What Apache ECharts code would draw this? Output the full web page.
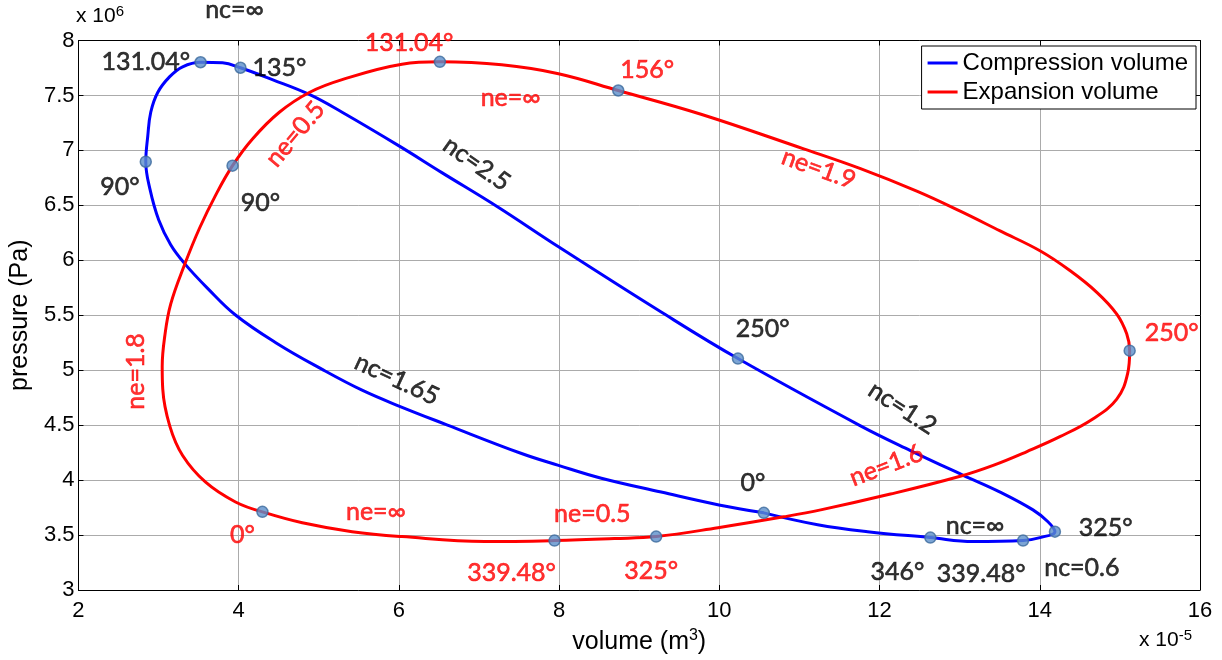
<!DOCTYPE html>
<html>
<head>
<meta charset="utf-8">
<script src="https://cdn.jsdelivr.net/npm/echarts@6/dist/echarts.min.js"></script>
<style>
  html, body { margin: 0; padding: 0; background: #fff; }
  #chart { width: 1222px; height: 660px; }
</style>
</head>
<body>
<div id="chart"></div>
<script>
// Volume in units of 1e-5 m^3, pressure in units of 1e6 Pa.
const volumeTicks = [2, 4, 6, 8, 10, 12, 14, 16];
const pressureTicks = [3, 3.5, 4, 4.5, 5, 5.5, 6, 6.5, 7, 7.5, 8];

// Compression space p-V loop, starting at crank angle 0°
const compressionCurve = [
  [10.555, 3.702], [9.995, 3.774], [9.274, 3.891], [8.527, 4.017], [7.992, 4.134],
  [7.531, 4.242], [6.598, 4.503], [6.001, 4.674], [5.540, 4.818], [5.043, 5.007],
  [4.483, 5.241], [3.960, 5.502], [3.612, 5.745], [3.325, 5.970], [3.151, 6.141],
  [3.002, 6.366], [2.890, 6.654], [2.840, 6.897], [2.865, 7.131], [2.902, 7.347],
  [2.989, 7.527], [3.139, 7.671], [3.300, 7.761], [3.524, 7.802], [3.798, 7.797],
  [4.022, 7.752], [4.420, 7.644], [4.881, 7.509], [5.291, 7.347], [6.001, 7.041],
  [6.536, 6.798], [7.220, 6.492], [7.992, 6.123], [9.274, 5.529], [10.232, 5.106],
  [11.762, 4.494], [12.385, 4.269], [13.044, 4.044], [13.505, 3.891], [13.915, 3.729],
  [14.102, 3.621], [14.189, 3.531], [14.002, 3.477], [13.791, 3.450], [13.169, 3.441],
  [12.634, 3.477], [11.850, 3.531], [11.227, 3.594], [10.555, 3.702]
];

// Expansion space p-V loop, starting at crank angle 0°
const expansionCurve = [
  [4.296, 3.711], [3.960, 3.801], [3.587, 3.981], [3.300, 4.224], [3.139, 4.494],
  [3.052, 4.827], [3.045, 5.034], [3.076, 5.304], [3.151, 5.601], [3.325, 5.961],
  [3.512, 6.294], [3.711, 6.591], [3.923, 6.861], [4.172, 7.104], [4.507, 7.347],
  [4.881, 7.527], [5.291, 7.644], [6.038, 7.784], [6.511, 7.806], [7.283, 7.779],
  [7.992, 7.698], [8.738, 7.545], [9.771, 7.329], [11.053, 7.014], [11.762, 6.834],
  [12.472, 6.627], [13.007, 6.447], [13.505, 6.267], [14.002, 6.087], [14.376, 5.907],
  [14.712, 5.709], [14.961, 5.511], [15.085, 5.331], [15.122, 5.178], [15.097, 4.971],
  [14.961, 4.737], [14.662, 4.557], [14.251, 4.395], [13.840, 4.260], [13.418, 4.134],
  [13.007, 4.035], [12.136, 3.873], [11.265, 3.729], [10.804, 3.666], [9.983, 3.567],
  [9.211, 3.486], [8.689, 3.468], [7.942, 3.450], [7.071, 3.441], [6.038, 3.486],
  [5.416, 3.531], [4.794, 3.612], [4.296, 3.711]
];

// Crank-angle points marked on each loop
const compressionMarks = [
  [10.555, 3.702], [2.840, 6.897], [3.524, 7.802], [4.022, 7.752],
  [10.232, 5.106], [14.189, 3.531], [13.791, 3.450], [12.634, 3.477]
];
const expansionMarks = [
  [4.296, 3.711], [3.923, 6.861], [6.511, 7.806], [8.738, 7.545],
  [15.122, 5.178], [9.211, 3.486], [7.942, 3.450]
];

// Annotations: [volume, pressure, text, rotation in degrees]
const compressionNotes = [
  [3.948, 8.275, 'nc=∞', 0],
  [2.840, 7.806, '131.04°', 0],
  [4.508, 7.752, '135°', 0],
  [2.518, 6.672, '90°', 0],
  [4.271, 6.519, '90°', 0],
  [6.971, 6.879, 'nc=2.5', -35],
  [10.542, 5.376, '250°', 0],
  [5.975, 4.917, 'nc=1.65', -25],
  [12.285, 4.655, 'nc=1.2', -33],
  [10.418, 3.972, '0°', 0],
  [13.193, 3.586, 'nc=∞', 0],
  [14.824, 3.568, '325°', 0],
  [14.525, 3.199, 'nc=0.6', 0],
  [12.224, 3.162, '346°', 0],
  [13.269, 3.144, '339.48°', 0]
];
const expansionNotes = [
  [6.126, 7.978, '131.04°', 0],
  [9.099, 7.735, '156°', 0],
  [7.395, 7.473, 'ne=∞', 0],
  [4.706, 7.149, 'ne=0.5', 50],
  [11.240, 6.834, 'ne=1.9', -20],
  [15.645, 5.340, '250°', 0],
  [2.716, 4.989, 'ne=1.8', 90],
  [12.086, 4.134, 'ne=1.6', 21],
  [5.714, 3.711, 'ne=∞', 0],
  [8.414, 3.693, 'ne=0.5', 0],
  [4.046, 3.500, '0°', 0],
  [7.406, 3.153, '339.48°', 0],
  [9.149, 3.171, '325°', 0]
];

const axisFont = 'Liberation Sans, Arial, sans-serif';
const noteFont = 'Lato, Calibri, sans-serif';

function noteSeries(notes, color) {
  return {
    type: 'scatter',
    symbolSize: 0,
    silent: true,
    clip: false,
    z: 5,
    itemStyle: { color: 'rgba(0,0,0,0)' },
    data: notes.map(n => ({
      value: [n[0], n[1]],
      name: n[2],
      label: { rotate: n[3] }
    })),
    label: {
      show: true,
      position: 'inside',
      formatter: p => p.name,
      color: color,
      textBorderColor: color,
      textBorderWidth: 0.6,
      fontFamily: noteFont,
      fontSize: 25,
      align: 'center',
      verticalAlign: 'middle'
    }
  };
}

function markSeries(points) {
  return {
    type: 'scatter',
    symbol: 'circle',
    symbolSize: 11,
    silent: true,
    z: 4,
    itemStyle: { color: '#5b8fcb', borderColor: '#3c6a9c', borderWidth: 1.5 },
    data: points
  };
}

function loopSeries(name, points, color) {
  return {
    name: name,
    type: 'line',
    data: points,
    showSymbol: false,
    smooth: 0.4,
    lineStyle: { color: color, width: 3 },
    itemStyle: { color: color },
    z: 3
  };
}

const chart = echarts.init(document.getElementById('chart'), null, { renderer: 'canvas' });

const boxAxis = {
  axisLine: { show: true, lineStyle: { color: '#000', width: 1 } },
  axisTick: { show: true, inside: true, length: 5, lineStyle: { color: '#000' } },
  axisLabel: { show: false },
  splitLine: { show: false }
};

chart.setOption({
  animation: false,
  backgroundColor: '#fff',
  grid: { left: 75.5, right: 22, top: 40.5, bottom: 64, containLabel: false },
  legend: {
    data: [
      { name: 'Compression volume', icon: 'rect' },
      { name: 'Expansion volume', icon: 'rect' }
    ],
    orient: 'vertical',
    right: 26,
    top: 46,
    itemWidth: 30,
    itemHeight: 3,
    itemGap: 3,
    padding: [4, 8, 4, 6],
    borderColor: '#000',
    borderWidth: 1,
    backgroundColor: '#fff',
    selectedMode: false,
    textStyle: { fontFamily: axisFont, fontSize: 24, color: '#000', lineHeight: 26 }
  },
  xAxis: [
    {
      type: 'value',
      min: volumeTicks[0],
      max: volumeTicks[volumeTicks.length - 1],
      interval: volumeTicks[1] - volumeTicks[0],
      name: 'volume (m{sup|3})',
      nameLocation: 'middle',
      nameGap: 38,
      nameTextStyle: {
        fontFamily: axisFont, fontSize: 25, color: '#000',
        rich: { sup: { fontFamily: axisFont, fontSize: 16, color: '#000', padding: [0, 0, 13, 0] } }
      },
      axisLine: { show: true, onZero: false, lineStyle: { color: '#000', width: 1 } },
      axisTick: { show: true, inside: true, length: 5, lineStyle: { color: '#000' } },
      axisLabel: { fontFamily: axisFont, fontSize: 22, color: '#000', margin: 10 },
      splitLine: { show: true, lineStyle: { color: '#ababab', width: 1 } }
    },
    Object.assign({
      type: 'value', position: 'top',
      min: volumeTicks[0], max: volumeTicks[volumeTicks.length - 1],
      interval: volumeTicks[1] - volumeTicks[0]
    }, boxAxis)
  ],
  yAxis: [
    {
      type: 'value',
      min: pressureTicks[0],
      max: pressureTicks[pressureTicks.length - 1],
      interval: pressureTicks[1] - pressureTicks[0],
      name: 'pressure (Pa)',
      nameLocation: 'middle',
      nameGap: 44,
      nameTextStyle: { fontFamily: axisFont, fontSize: 25, color: '#000' },
      axisLine: { show: true, onZero: false, lineStyle: { color: '#000', width: 1 } },
      axisTick: { show: true, inside: true, length: 5, lineStyle: { color: '#000' } },
      axisLabel: { fontFamily: axisFont, fontSize: 22, color: '#000', margin: 4 },
      splitLine: { show: true, lineStyle: { color: '#ababab', width: 1 } }
    },
    Object.assign({
      type: 'value', position: 'right',
      min: pressureTicks[0], max: pressureTicks[pressureTicks.length - 1],
      interval: pressureTicks[1] - pressureTicks[0]
    }, boxAxis)
  ],
  graphic: [
    {
      type: 'text', left: 76, top: 4, silent: true,
      style: {
        text: '{a|x 10}{b|6}',
        rich: {
          a: { fontFamily: axisFont, fontSize: 21, fill: '#000', padding: [10, 0, 0, 0] },
          b: { fontFamily: axisFont, fontSize: 15, fill: '#000' }
        }
      }
    },
    {
      type: 'text', left: 1139, top: 628, silent: true,
      style: {
        text: '{a|x 10}{b|-5}',
        rich: {
          a: { fontFamily: axisFont, fontSize: 21, fill: '#000', padding: [10, 0, 0, 0] },
          b: { fontFamily: axisFont, fontSize: 15, fill: '#000' }
        }
      }
    }
  ],
  series: [
    loopSeries('Compression volume', compressionCurve, '#0000ff'),
    loopSeries('Expansion volume', expansionCurve, '#ff0000'),
    markSeries(compressionMarks),
    markSeries(expansionMarks),
    noteSeries(compressionNotes, '#000000'),
    noteSeries(expansionNotes, '#ff0000')
  ]
});
</script>
</body>
</html>
